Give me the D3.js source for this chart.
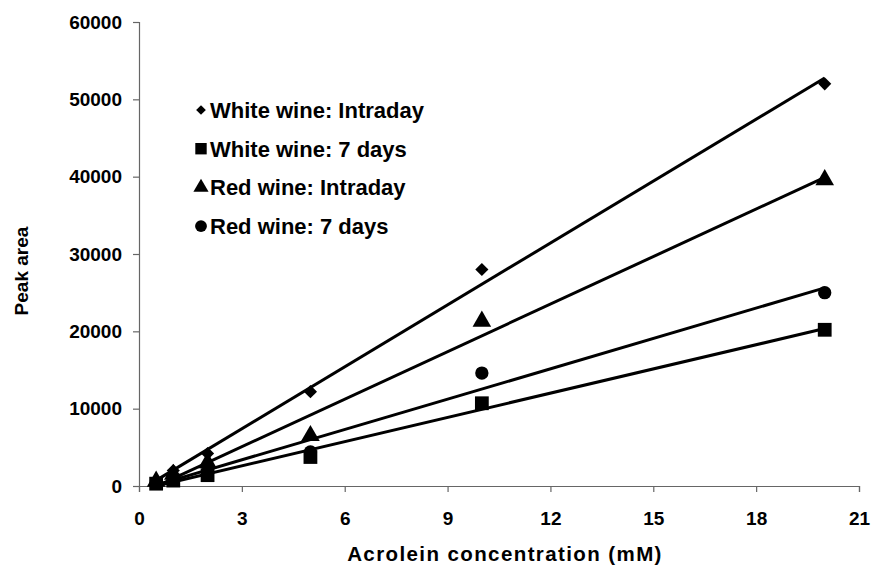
<!DOCTYPE html>
<html>
<head>
<meta charset="utf-8">
<script src="https://cdn.jsdelivr.net/npm/d3@7"></script>
<style>
  body { margin: 0; background: #fff; }
  text { font-family: "Liberation Sans", Arial, sans-serif; fill: #000; }
</style>
</head>
<body>
<div id="chart"></div>
<script>
(function() {
const width = 878,
      height = 567

// data
const concentrations = [0.5, 1, 2, 5, 10, 20]
const seriesNames = ['White wine: Intraday', 'White wine: 7 days', 'Red wine: Intraday', 'Red wine: 7 days']
const whiteIntraday = [700, 2000, 4200, 12200, 28000, 52000]
const white7days = [300, 700, 1400, 3750, 10700, 20200]
const redIntraday = [600, 1500, 3000, 6500, 21300, 39600]
const red7days = [400, 900, 1800, 4400, 14600, 25000]
const xTicks = [0, 3, 6, 9, 12, 15, 18, 21]
const yTicks = [0, 10000, 20000, 30000, 40000, 50000, 60000]

const symbols = [d3.symbolDiamond2, d3.symbolSquare, d3.symbolTriangle, d3.symbolCircle]
const symbolSizes = [110, 190, 150, 140]

const series = seriesNames.map(function(name, i) {
  const vals = [whiteIntraday, white7days, redIntraday, red7days][i]
  return {
    name: name,
    symbol: symbols[i],
    size: symbolSizes[i],
    points: concentrations.map(function(c, j) { return { x: c, y: vals[j] } })
  }
})

const margin = { left: 139, right: 19, top: 22, bottom: 81 }

const svg = d3.select('#chart')
  .append('svg')
  .attr('width', width)
  .attr('height', height)

const x = d3.scaleLinear()
  .domain([0, 21])
  .range([margin.left, width - margin.right])

const y = d3.scaleLinear()
  .domain([0, 60000])
  .range([height - margin.bottom, margin.top])

// axes
const xAxis = svg.append('g')
  .attr('transform', 'translate(0,' + y(0) + ')')
  .call(d3.axisBottom(x).tickValues(xTicks).tickSize(6).tickPadding(20))
xAxis.select('.domain').attr('stroke', '#666').attr('stroke-width', 1.2)
xAxis.selectAll('.tick line').attr('stroke', '#666').attr('stroke-width', 1.2)
xAxis.selectAll('text').style('font-size', '19px').style('font-weight', 'bold')

const yAxis = svg.append('g')
  .attr('transform', 'translate(' + x(0) + ',0)')
  .call(d3.axisLeft(y).tickValues(yTicks).tickSize(6).tickPadding(11).tickFormat(d3.format('d')))
yAxis.select('.domain').attr('stroke', '#666').attr('stroke-width', 1.2)
yAxis.selectAll('.tick line').attr('stroke', '#666').attr('stroke-width', 1.2)
yAxis.selectAll('text').style('font-size', '19px').style('font-weight', 'bold')

// axis titles
svg.append('text')
  .attr('x', 505)
  .attr('y', 561)
  .attr('text-anchor', 'middle')
  .style('font-size', '20.5px')
  .style('font-weight', 'bold')
  .style('letter-spacing', '1.4px')
  .text('Acrolein concentration (mM)')

svg.append('text')
  .attr('transform', 'translate(28,' + 271 + ') rotate(-90)')
  .attr('text-anchor', 'middle')
  .style('font-size', '19px')
  .style('font-weight', 'bold')
  .text('Peak area')

// linear trendlines
function fit(points) {
  const mx = d3.mean(points, function(d) { return d.x })
  const my = d3.mean(points, function(d) { return d.y })
  const sxy = d3.sum(points, function(d) { return (d.x - mx) * (d.y - my) })
  const sxx = d3.sum(points, function(d) { return (d.x - mx) * (d.x - mx) })
  const b = sxy / sxx
  return { b: b, a: my - b * mx }
}

const line = d3.line()
  .x(function(d) { return x(d.x) })
  .y(function(d) { return y(d.y) })

series.forEach(function(s) {
  const f = fit(s.points)
  const ends = d3.extent(s.points, function(d) { return d.x }).map(function(c) {
    return { x: c, y: f.a + f.b * c }
  })
  svg.append('path')
    .datum(ends)
    .attr('d', line)
    .attr('fill', 'none')
    .attr('stroke', '#000')
    .attr('stroke-width', 3)
})

// markers
series.forEach(function(s) {
  svg.selectAll(null)
    .data(s.points)
    .enter().append('path')
    .attr('d', d3.symbol().type(s.symbol).size(s.size))
    .attr('transform', function(d) {
      return 'translate(' + x(d.x) + ',' + y(d.y) + ')'
    })
    .attr('fill', '#000')
})

// legend
const legend = svg.append('g')
  .attr('transform', 'translate(201,110)')

const rows = legend.selectAll('g')
  .data(series)
  .enter().append('g')
  .attr('transform', function(d, i) { return 'translate(0,' + (i * 38.7) + ')' })

rows.append('path')
  .attr('d', function(d, i) {
    return d3.symbol().type(d.symbol).size([60, 130, 100, 110][i])()
  })
  .attr('fill', '#000')

rows.append('text')
  .attr('x', 9)
  .attr('dy', '0.36em')
  .style('font-size', '22px')
  .style('font-weight', 'bold')
  .text(function(d) { return d.name })

})()
</script>
</body>
</html>
